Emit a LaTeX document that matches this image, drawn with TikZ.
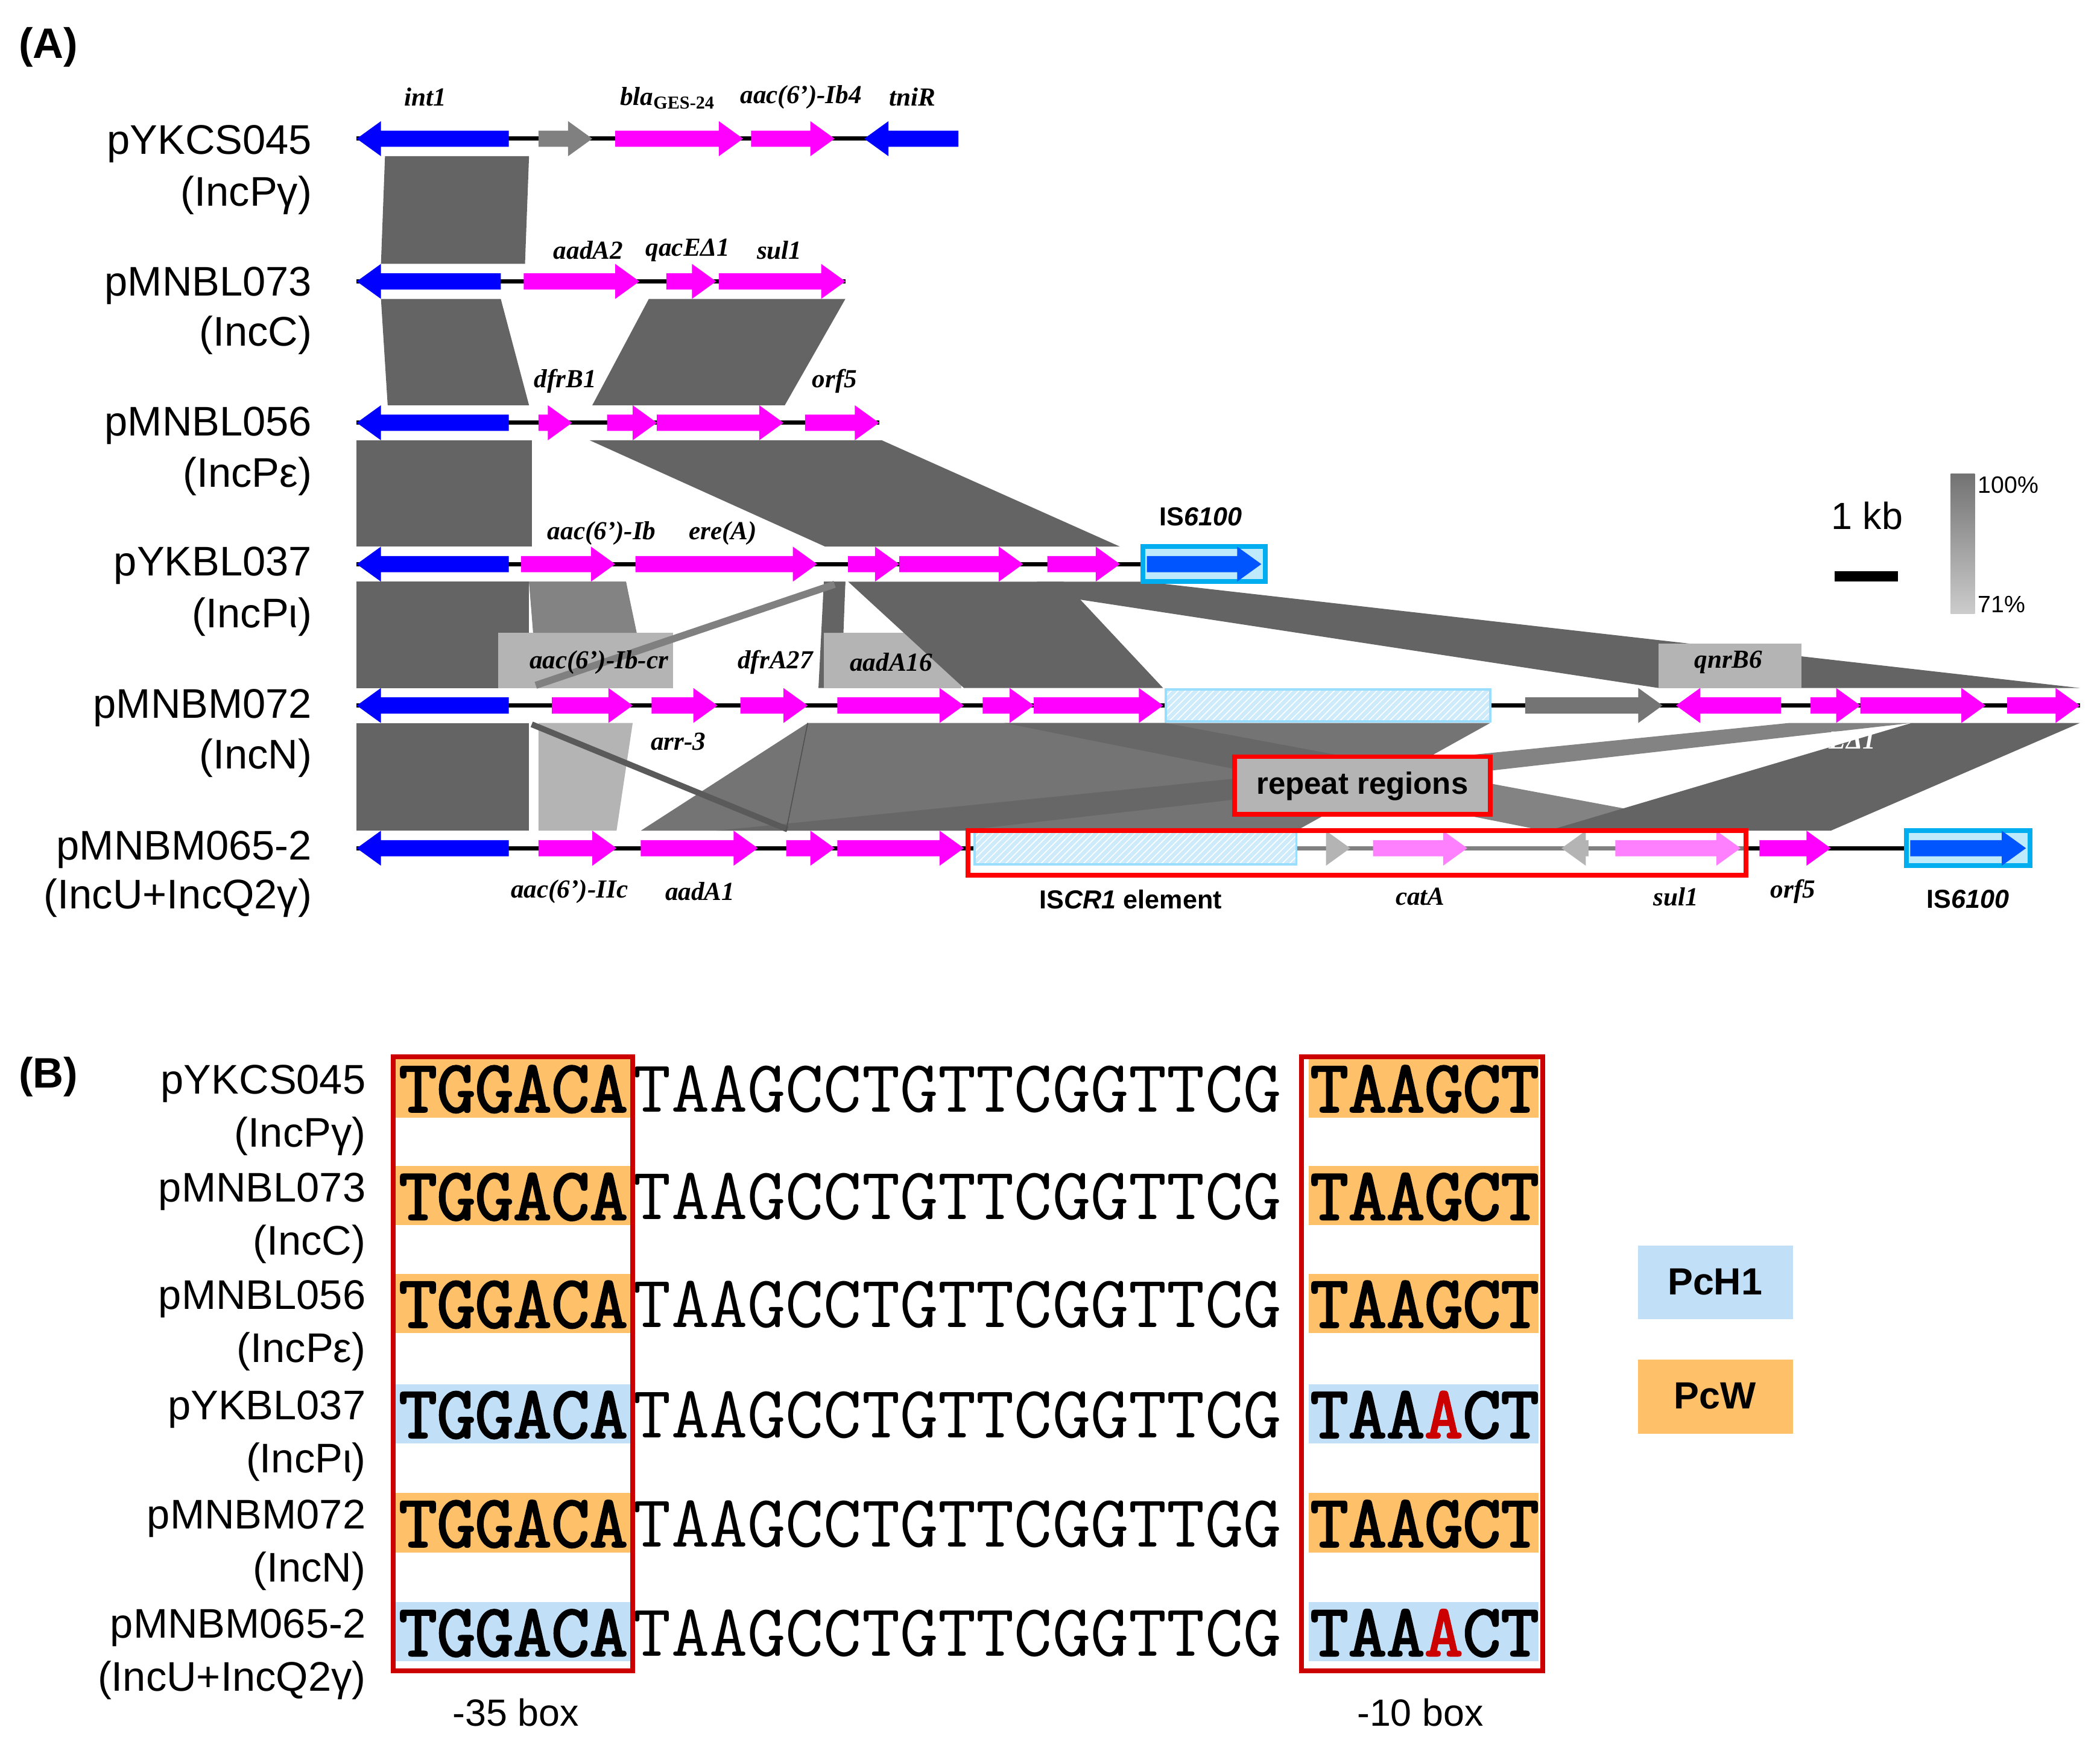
\documentclass[tikz,border=0pt]{standalone}
\usepackage{fontspec}
\setmainfont{Liberation Sans}
\newfontfamily\gser{Liberation Serif}
\newfontfamily\gmono{Latin Modern Mono}
\newfontfamily\gmonob{Latin Modern Mono}[FakeBold=2.5]
\usetikzlibrary{patterns}
\definecolor{mag}{HTML}{FF00FF}
\definecolor{gblue}{HTML}{0000FF}
\definecolor{isblue}{HTML}{0055FF}
\definecolor{dband}{HTML}{646464}
\definecolor{mband}{HTML}{747474}
\definecolor{lband}{HTML}{B4B4B4}
\definecolor{hatchb}{HTML}{CDEBFA}
\definecolor{hatchline}{HTML}{99DDFF}
\definecolor{orng}{HTML}{FFC06A}
\definecolor{lblu}{HTML}{C2DFF8}
\definecolor{pinkl}{HTML}{FF80FF}
\newcommand\rgene[4]{\pgfmathsetmacro\hx{max(#1,#2-18)}%
  \fill[#4] (#1,#3-6) -- (\hx,#3-6) -- (\hx,#3-13) -- (#2,#3) -- (\hx,#3+13) -- (\hx,#3+6) -- (#1,#3+6) -- cycle;}
\newcommand\lgene[4]{\pgfmathsetmacro\hx{min(#2,#1+18)}%
  \fill[#4] (#2,#3-6) -- (\hx,#3-6) -- (\hx,#3-13) -- (#1,#3) -- (\hx,#3+13) -- (\hx,#3+6) -- (#2,#3+6) -- cycle;}
\newcommand\track[3]{\draw[line width=1.8pt,black] (#1,#3) -- (#2,#3);}
\newcommand\isbox[3]{\draw[cyan!100,line width=2pt,fill=cyan!25] (#1,#3-13) rectangle (#2,#3+13); \rgene{#1+3}{#2-3}{#3}{isblue}}
\newcommand\hatch[3]{\fill[hatchb] (#1,#3-12) rectangle (#2,#3+12);
  \fill[pattern=north east lines,pattern color=white] (#1,#3-12) rectangle (#2,#3+12);
  \draw[hatchline,line width=1pt] (#1,#3-12) rectangle (#2,#3+12);}
\tikzset{
  gl/.style={font=\gser\bfseries\itshape\fontsize{11}{12}\selectfont,inner sep=1pt},
  rl/.style={font=\fontsize{17.5}{19}\selectfont,anchor=east,inner sep=0pt},
  bl/.style={font=\bfseries\fontsize{11}{12}\selectfont,inner sep=1pt},
  seq/.style={font=\gmono\fontsize{31.3}{32}\selectfont,anchor=west,inner sep=0pt},
  bseq/.style={font=\gmonob\fontsize{31.3}{32}\selectfont,anchor=west,inner sep=0pt},
}
\begin{document}
\begin{tikzpicture}[x=0.02cm,y=-0.02cm]
\useasboundingbox (0,0) rectangle (1560,1293.5);
\fill[white] (0,0) rectangle (1560,1293.5);
\fill[dband] (286,116) -- (393,116) -- (390,196) -- (283,196) -- cycle;
\fill[dband] (283,222) -- (372,222) -- (393,301) -- (288,301) -- cycle;
\fill[dband] (482,222) -- (628,222) -- (583,301) -- (440,301) -- cycle;
\fill[dband] (265,327) -- (395,327) -- (395,406) -- (265,406) -- cycle;
\fill[dband] (438,327) -- (655,327) -- (832,406) -- (613,406) -- cycle;
\fill[dband] (265,432) -- (393,432) -- (393,511) -- (265,511) -- cycle;
\fill[dband] (393,432) -- (465,432) -- (480,511) -- (400,511) -- cycle;
\fill[lband] (370,470) rectangle (500,511);
\fill[dband!80!white] (393,432) -- (465,432) -- (473,470) -- (396,470) -- cycle;
\fill[dband] (612,432) -- (628,432) -- (625,511) -- (608,511) -- cycle;
\fill[lband] (612,470) rectangle (714,511);
\fill[dband] (628,432) -- (625,470) -- (612,470) -- (612,432) -- cycle;
\fill[dband] (630,432) -- (790,432) -- (864,511) -- (716,511) -- cycle;
\fill[dband] (770,432) -- (850,432) -- (1545,511) -- (1232,511) -- (800,445) -- cycle;
\fill[lband] (1232,478) -- (1338,478) -- (1338,511) -- (1232,511) -- cycle;
\draw[gray,line width=3pt] (620,434) -- (398,509);
\fill[dband] (265,537) -- (393,537) -- (393,617) -- (265,617) -- cycle;
\fill[lband] (400,537) -- (470,537) -- (458,617) -- (400,617) -- cycle;
\fill[mband] (600,537) -- (1107,537) -- (963,617) -- (476,617) -- cycle;
\fill[dband,opacity=0.8] (746,537) -- (866,537) -- (1295,617) -- (1147,617) -- cycle;
\fill[dband,opacity=0.8] (532,617) -- (713,617) -- (1420,537) -- (1329,537) -- cycle;
\fill[dband] (1420,537) -- (1545,537) -- (1360,617) -- (1150,617) -- cycle;
\draw[dband!90!black,line width=2.5pt] (395,538) -- (585,616);
\draw[dband!80!black,line width=0.4pt] (600,537) -- (584,617);
\draw[red,line width=2pt,fill=lband] (917,562) rectangle (1107,605);
\node[bl,font=\bfseries\fontsize{13}{14}\selectfont] (rep) at (1012,584) {repeat regions};
\track{265}{712}{103}
\lgene{265}{378}{103}{gblue}
\rgene{400}{440}{103}{gray}
\rgene{457}{552}{103}{mag}
\rgene{558}{620}{103}{mag}
\lgene{642}{712}{103}{gblue}
\track{265}{628}{209}
\lgene{265}{372}{209}{gblue}
\rgene{389}{475}{209}{mag}
\rgene{495}{532}{209}{mag}
\rgene{534}{628}{209}{mag}
\track{265}{653}{314}
\lgene{265}{378}{314}{gblue}
\rgene{400}{425}{314}{mag}
\rgene{451}{488}{314}{mag}
\rgene{488}{582}{314}{mag}
\rgene{598}{653}{314}{mag}
\track{265}{849}{419}
\lgene{265}{378}{419}{gblue}
\rgene{387}{457}{419}{mag}
\rgene{472}{607}{419}{mag}
\rgene{630}{668}{419}{mag}
\rgene{668}{760}{419}{mag}
\rgene{778}{832}{419}{mag}
\isbox{849}{940}{419}
\track{265}{1545}{524}
\lgene{265}{378}{524}{gblue}
\rgene{410}{470}{524}{mag}
\rgene{484}{533}{524}{mag}
\rgene{550}{600}{524}{mag}
\rgene{622}{716}{524}{mag}
\rgene{730}{768}{524}{mag}
\rgene{768}{864}{524}{mag}
\hatch{866}{1107}{524}
\rgene{1133}{1235}{524}{mband}
\lgene{1245}{1323}{524}{mag}
\rgene{1345}{1382}{524}{mag}
\rgene{1382}{1475}{524}{mag}
\rgene{1491}{1545}{524}{mag}
\track{265}{1416}{630}
\draw[gray,line width=1.8pt] (963,630) -- (1297,630);
\lgene{265}{378}{630}{gblue}
\rgene{400}{458}{630}{mag}
\rgene{476}{563}{630}{mag}
\rgene{584}{620}{630}{mag}
\rgene{622}{716}{630}{mag}
\hatch{724}{963}{630}
\rgene{985}{1003}{630}{lband}
\rgene{1020}{1090}{630}{pinkl}
\lgene{1160}{1180}{630}{lband}
\rgene{1200}{1293}{630}{pinkl}
\draw[red,line width=2pt] (719,617) rectangle (1297,650);
\rgene{1307}{1360}{630}{mag}
\isbox{1416}{1508}{630}
\node[gl] (g1) at (316,72) {int1};
\node[gl] (g2) at (496,73) {bla\textsubscript{\normalfont\gser\bfseries GES-24}};
\node[gl] (g3) at (595,72) {aac(6’)-Ib4};
\node[gl] (g4) at (678,72) {tniR};
\node[gl] (g5) at (437,186) {aadA2};
\node[gl] (g6) at (511,186) {qacEΔ1};
\node[gl] (g7) at (579,186) {sul1};
\node[gl] (g8) at (420,283) {dfrB1};
\node[gl] (g9) at (620,283) {orf5};
\node[gl] (g10) at (447,396) {aac(6’)-Ib};
\node[gl] (g11) at (537,396) {ere(A)};
\node[bl] (g12) at (892,384) {IS\textit{6100}};
\node[gl] (g13) at (445,492) {aac(6’)-Ib-cr};
\node[gl] (g14) at (576,492) {dfrA27};
\node[gl] (g15) at (662,492) {aadA16};
\node[gl] (g16) at (1284,492) {qnrB6};
\node[gl] (g17) at (504,551) {arr-3};
\node[gl,text=white] (g18) at (1362,552) {qacEΔ1};
\node[gl] (g19) at (423,662) {aac(6’)-IIc};
\node[gl] (g20) at (520,662) {aadA1};
\node[bl] (g21) at (840,668) {IS\textit{CR1} element};
\node[gl] (g22) at (1055,666) {catA};
\node[gl] (g23) at (1245,666) {sul1};
\node[gl] (g24) at (1332,662) {orf5};
\node[bl] (g25) at (1462,668) {IS\textit{6100}};
\node[rl] (r1) at (232,107) {pYKCS045};
\node[rl] (r1b) at (232,145) {(IncPγ)};
\node[rl] (r2) at (232,212) {pMNBL073};
\node[rl] (r2b) at (232,249) {(IncC)};
\node[rl] (r3) at (232,316) {pMNBL056};
\node[rl] (r3b) at (232,354) {(IncPε)};
\node[rl] (r4) at (232,420) {pYKBL037};
\node[rl] (r4b) at (232,458) {(IncPι)};
\node[rl] (r5) at (232,526) {pMNBM072};
\node[rl] (r5b) at (232,563) {(IncN)};
\node[rl] (r6) at (232,631) {pMNBM065-2};
\node[rl] (r6b) at (232,667) {(IncU+IncQ2γ)};
\node[font=\fontsize{16}{18}\selectfont] (kb) at (1387,383) {1 kb};
\draw[black,line width=4.5pt] (1363,428) -- (1410,428);
\shade[top color=gray!90!black,bottom color=gray!40] (1449,352) rectangle (1467,456);
\node[font=\fontsize{10}{11}\selectfont,anchor=west,inner sep=0] (p100) at (1469,360) {100\%};
\node[font=\fontsize{10}{11}\selectfont,anchor=west,inner sep=0] (p71) at (1469,449) {71\%};
\node[font=\bfseries\fontsize{18}{20}\selectfont] (A) at (36,35) {(A)};
\node[font=\bfseries\fontsize{18}{20}\selectfont] (B) at (36,800) {(B)};
\foreach \y/\c in {808/orng,888/orng,968/orng,1050/lblu,1131/orng,1212/lblu}{
  \fill[\c] (294,\y-22) rectangle (468,\y+22);
  \fill[\c] (972,\y-22) rectangle (1143,\y+22);
}
\foreach \y/\m/\t/\lab/\inc in {808/TAAGCCTGTTCGGTTCG/TAAGCT/pYKCS045/(IncPγ),
  888/TAAGCCTGTTCGGTTCG/TAAGCT/pMNBL073/(IncC),
  968/TAAGCCTGTTCGGTTCG/TAAGCT/pMNBL056/(IncPε),
  1050/TAAGCCTGTTCGGTTCG/{TAA\textcolor{red!80!black}{A}CT}/pYKBL037/(IncPι),
  1131/TAAGCCTGTTCGGTTGG/TAAGCT/pMNBM072/(IncN),
  1212/TAAGCCTGTTCGGTTCG/{TAA\textcolor{red!80!black}{A}CT}/pMNBM065-2/(IncU+IncQ2γ)}{
  \node[bseq] at (296,\y+1) {TGGACA};
  \node[seq] at (470,\y+1) {\m};
  \node[bseq] at (973,\y+1) {\t};
  \node[rl] at (272,\y-3) {\lab};
  \node[rl] at (272,\y+36) {\inc};
}
\draw[red!80!black,line width=2pt] (292,785) rectangle (470,1241);
\draw[red!80!black,line width=2pt] (967,785) rectangle (1146,1241);
\node[font=\fontsize{16}{18}\selectfont] (b35) at (383,1272) {-35 box};
\node[font=\fontsize{16}{18}\selectfont] (b10) at (1055,1272) {-10 box};
\fill[lblu] (1217,925) rectangle (1332,980);
\node[font=\bfseries\fontsize{16}{18}\selectfont] (pch) at (1274,952) {PcH1};
\fill[orng] (1217,1010) rectangle (1332,1065);
\node[font=\bfseries\fontsize{16}{18}\selectfont] (pcw) at (1274,1037) {PcW};
\end{tikzpicture}
\end{document}
